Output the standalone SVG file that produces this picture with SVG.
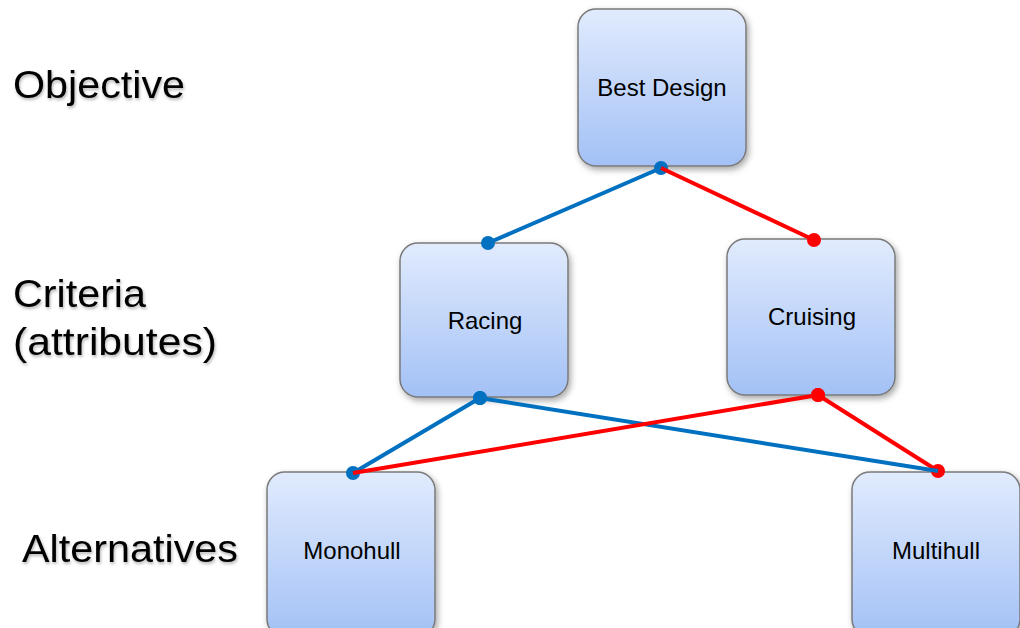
<svg xmlns="http://www.w3.org/2000/svg" width="1020" height="628" viewBox="0 0 1020 628">
<style>
.box{fill:url(#g);stroke:#7a7a7a;stroke-width:1.5;filter:url(#bs)}
.bl{font-family:"Liberation Sans",Arial,sans-serif;font-size:24px;fill:#000;text-anchor:middle}
.side{font-family:"Liberation Sans",Arial,sans-serif;font-size:38px;fill:#000;filter:url(#ts)}
.b{stroke:#0070C0;stroke-width:4;fill:none}
.r{stroke:#FF0000;stroke-width:4;fill:none}
.bb{marker-start:url(#db);marker-end:url(#db)}
.rr{marker-start:url(#dr);marker-end:url(#dr)}
</style>
<defs>
<linearGradient id="g" x1="0" y1="0" x2="0" y2="1">
<stop offset="0" stop-color="#e1ebfd"/>
<stop offset="1" stop-color="#a3c1f6"/>
</linearGradient>
<filter id="bs" x="-20%" y="-20%" width="140%" height="140%">
<feDropShadow dx="2" dy="3" stdDeviation="3" flood-color="#000" flood-opacity="0.35"/>
</filter>
<filter id="ts" x="-10%" y="-30%" width="120%" height="160%">
<feDropShadow dx="1" dy="2" stdDeviation="1.5" flood-color="#000" flood-opacity="0.3"/>
</filter>
<marker id="db" markerUnits="userSpaceOnUse" markerWidth="16" markerHeight="16" refX="8" refY="8" viewBox="0 0 16 16">
<circle cx="8" cy="8" r="7" fill="#0070C0"/>
</marker>
<marker id="dr" markerUnits="userSpaceOnUse" markerWidth="16" markerHeight="16" refX="8" refY="8" viewBox="0 0 16 16">
<circle cx="8" cy="8" r="7" fill="#FF0000"/>
</marker>
</defs>
<rect width="1020" height="628" fill="#fff"/>
<g id="labels">
<text class="side" x="13" y="98" textLength="172" lengthAdjust="spacingAndGlyphs">Objective</text>
<text class="side" x="13" y="307" textLength="133" lengthAdjust="spacingAndGlyphs">Criteria</text>
<text class="side" x="13" y="355" textLength="204" lengthAdjust="spacingAndGlyphs">(attributes)</text>
<text class="side" x="22" y="562" textLength="216" lengthAdjust="spacingAndGlyphs">Alternatives</text>
</g>
<g id="best-design">
<rect class="box" x="578" y="9" width="168" height="157" rx="18"/>
<text class="bl" x="662" y="96">Best Design</text>
</g>
<g id="racing">
<rect class="box" x="400" y="243" width="168" height="154" rx="18"/>
<text class="bl" x="485" y="329">Racing</text>
</g>
<g id="cruising">
<rect class="box" x="727" y="239" width="168" height="156" rx="18"/>
<text class="bl" x="812" y="325">Cruising</text>
</g>
<g id="monohull">
<rect class="box" x="267" y="472" width="168" height="165" rx="18"/>
<text class="bl" x="352" y="559">Monohull</text>
</g>
<g id="multihull">
<rect class="box" x="852" y="472" width="168" height="165" rx="18"/>
<text class="bl" x="936" y="559">Multihull</text>
</g>
<g id="connectors">
<line class="b bb" x1="488" y1="243" x2="661" y2="168"/>
<line class="b bb" x1="480" y1="398" x2="353" y2="473"/>
<line class="r rr" x1="818" y1="395" x2="938" y2="471"/>
<line class="b" x1="480" y1="398" x2="938" y2="471" marker-start="url(#db)"/>
<line class="r" x1="661" y1="168" x2="814" y2="240" marker-end="url(#dr)"/>
<line class="r" x1="818" y1="395" x2="353" y2="473" marker-start="url(#dr)"/>
</g>
</svg>
